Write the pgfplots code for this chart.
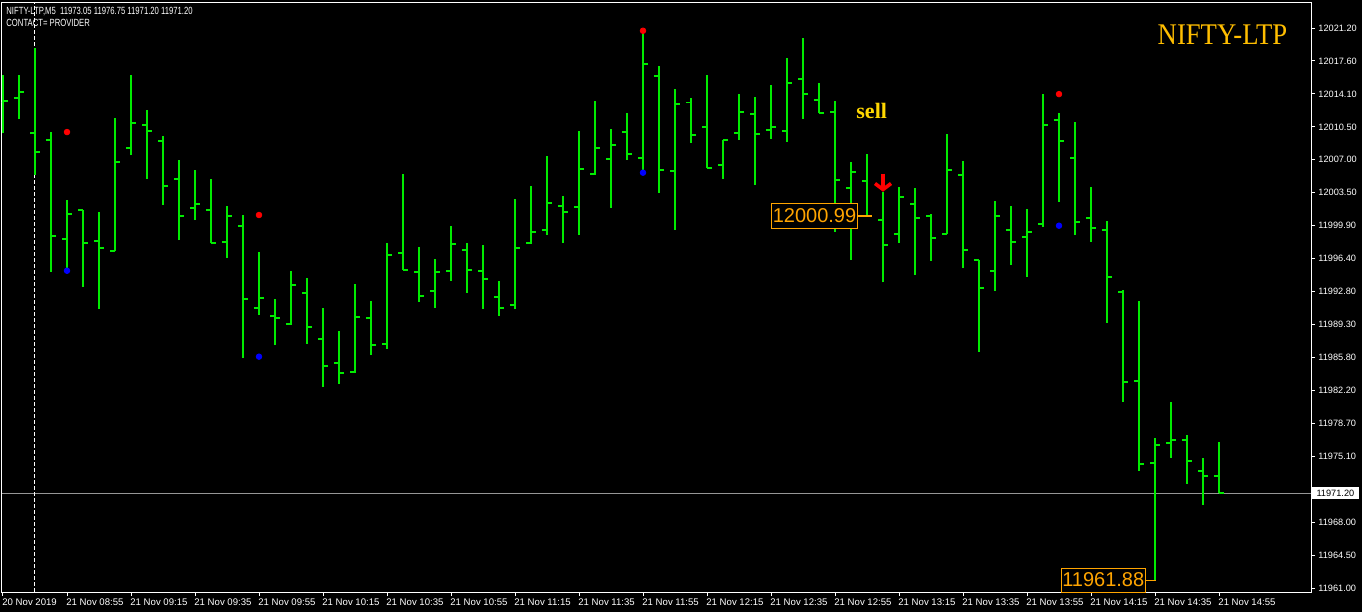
\documentclass[border=0pt]{standalone}
\usepackage{fontspec}
\setmainfont{Liberation Sans}
\newfontfamily\serifnf{Liberation Serif}
\usepackage{pgfplots}
\pgfplotsset{compat=1.18}
\usepackage{pgfplotstable}
\usetikzlibrary{arrows.meta}
\definecolor{barg}{RGB}{0,235,0}
\definecolor{lbl}{RGB}{255,165,0}
\definecolor{nifty}{RGB}{255,190,0}
\definecolor{sellc}{RGB}{255,215,0}
\definecolor{pline}{RGB}{150,150,150}

\pgfplotstableread{
x o h l c
0 12013.20 12016.15 12009.88 12013.35
1 12013.71 12016.15 12011.42 12014.32
2 12009.91 12019.05 12005.40 12007.87
3 12009.19 12010.02 11995.00 11998.84
4 11998.52 12002.71 11995.40 12001.24
5 12001.67 12001.67 11993.39 11998.12
6 11998.33 12001.42 11991.02 11997.58
7 11997.26 12011.52 11997.20 12006.79
8 12008.33 12016.15 12007.55 12011.02
9 12010.80 12012.38 12004.97 12010.16
10 12009.08 12009.59 12002.20 12004.21
11 12005.00 12007.01 11998.41 12001.02
12 12001.88 12005.93 12000.56 12002.31
13 12001.63 12004.97 11998.06 11998.12
14 11998.23 12002.06 11996.51 12000.99
15 11999.95 12001.10 11985.76 11992.10
16 11991.14 11997.12 11990.38 11992.21
17 11990.27 11992.07 11987.12 11990.06
18 11989.42 11995.08 11989.30 11993.57
19 11992.74 11994.32 11987.26 11989.09
20 11987.77 11991.10 11982.64 11984.86
21 11985.22 11988.63 11982.96 11984.14
22 11984.25 11993.68 11984.14 11990.16
23 11990.06 11991.85 11986.08 11987.15
24 11987.26 11998.09 11986.72 11996.83
25 11997.05 12005.50 11995.19 11995.22
26 11995.00 11997.66 11991.78 11992.42
27 11992.96 11996.37 11991.13 11995.00
28 11995.11 11999.91 11994.03 11998.01
29 11997.37 11998.09 11992.74 11995.22
30 11995.11 11997.87 11991.02 11994.25
31 11992.32 11994.00 11990.27 11991.13
32 11991.45 12002.82 11991.02 11997.58
33 11998.12 12004.21 11998.01 11999.30
34 11999.52 12007.44 11998.98 12002.42
35 12002.10 12003.14 11998.12 12001.45
36 12001.99 12010.13 11998.98 12006.08
37 12005.54 12013.35 12005.43 12008.33
38 12007.15 12010.34 12001.88 12008.66
39 12010.05 12012.06 12007.04 12007.69
40 12007.26 12020.88 12005.65 12017.36
41 12016.07 12017.12 12003.50 12005.97
42 12005.86 12014.64 11999.52 12013.06
43 12013.21 12013.68 12008.87 12009.73
44 12010.59 12016.15 12006.12 12006.18
45 12006.51 12009.13 12005.00 12009.13
46 12009.94 12014.10 12009.19 12012.20
47 12011.99 12013.78 12004.36 12009.84
48 12010.27 12015.07 12009.30 12010.59
49 12010.16 12017.98 12008.98 12015.32
50 12015.75 12020.13 12011.45 12014.14
51 12013.49 12015.29 12012.06 12012.09
52 12012.20 12013.35 11999.30 12004.89
53 12004.03 12006.79 11996.29 12005.75
54 12004.79 12007.66 12000.99 12000.99
55 12000.59 12003.60 11993.86 11997.90
56 11999.09 12004.11 11998.12 12003.07
57 12002.31 12004.00 11994.68 12000.81
58 12001.02 12001.20 11996.18 11998.66
59 11999.09 12009.81 11999.02 12005.97
60 12005.43 12006.90 11995.43 11997.37
61 11996.29 11996.29 11986.40 11993.28
62 11995.11 12002.60 11992.96 12001.02
63 11999.52 12002.06 11995.76 11998.23
64 11998.77 12001.74 11994.46 11999.30
65 12000.16 12014.10 11999.84 12010.80
66 12011.34 12012.06 12002.53 12009.08
67 12007.26 12011.09 11998.98 12000.38
68 12000.81 12004.11 11998.23 11999.73
69 11999.52 12000.45 11989.52 11994.46
70 11992.79 11993.04 11981.03 11983.15
71 11983.29 11991.85 11973.58 11974.36
72 11974.47 11977.12 11961.88 11976.40
73 11976.62 11980.99 11975.01 11976.94
74 11976.94 11977.45 11972.21 11974.69
75 11973.61 11974.98 11969.96 11973.07
76 11973.05 11976.75 11971.20 11971.20
}\ohlc

\begin{document}
\begin{tikzpicture}
\fill[black] (0,0) rectangle (681pt,306pt);
\useasboundingbox (0,0) rectangle (681pt,306pt);
\begin{axis}[
  at={(1pt,10pt)}, anchor=south west,
  width=654.5pt, height=295pt, scale only axis,
  xmin=-0.0625, xmax=81.75, ymin=11960.57, ymax=12024.0,
  scaled y ticks=false, scaled x ticks=false,
  axis line style={white, line width=0.5pt},
  xtick={0,4,...,76},
  xticklabels={20 Nov 2019, 21 Nov 08:55, 21 Nov 09:15, 21 Nov 09:35, 21 Nov 09:55, 21 Nov 10:15, 21 Nov 10:35, 21 Nov 10:55, 21 Nov 11:15, 21 Nov 11:35, 21 Nov 11:55, 21 Nov 12:15, 21 Nov 12:35, 21 Nov 12:55, 21 Nov 13:15, 21 Nov 13:35, 21 Nov 13:55, 21 Nov 14:15, 21 Nov 14:35, 21 Nov 14:55},
  ytick={12021.2000,12017.6588,12014.1176,12010.5765,12007.0353,12003.4941,11999.9529,11996.4118,11992.8706,11989.3294,11985.7882,11982.2471,11978.7059,11975.1647,11971.6235,11968.0824,11964.5412,11961.0000},
  yticklabels={12021.20,12017.60,12014.10,12010.50,12007.00,12003.50,11999.90,11996.40,11992.80,11989.30,11985.80,11982.20,11978.70,11975.10,{},11968.00,11964.50,11961.00},
  xtick pos=bottom, ytick pos=right,
  tick align=outside,
  major tick length=2pt,
  tick style={white, line width=0.5pt},
  x tick label style={font=\fontsize{4.8}{5}\selectfont, text=white, anchor=north west, inner sep=0pt, xshift=-0.5pt, yshift=-1pt},
  y tick label style={font=\fontsize{4.6}{5}\selectfont, text=white, anchor=west, inner sep=0pt, xshift=1.5pt},
]
\addplot[pline, line width=0.5pt, mark=none] coordinates {(-0.0625,11971.20) (81.75,11971.20)};
\addplot[white, line width=0.5pt, mark=none, dash pattern=on 2pt off 1pt] coordinates {(2,11960.57) (2,12024.0)};
\addplot[barg, line width=0.85pt, mark=none, quiver={u=0, v=\thisrow{h}-\thisrow{l}}] table[x=x, y=l] {\ohlc};
\addplot[barg, line width=0.85pt, mark=none, quiver={u=-0.33, v=0}] table[x=x, y=o] {\ohlc};
\addplot[barg, line width=0.85pt, mark=none, quiver={u=0.33, v=0}] table[x=x, y=c] {\ohlc};
\addplot[only marks, mark=*, mark size=1.4pt, red] coordinates {(4,12010.02) (16,12001.10) (40,12020.91) (66,12014.10)};
\addplot[only marks, mark=*, mark size=1.4pt, blue] coordinates {(4,11995.11) (16,11985.87) (40,12005.65) (66,11999.95)};
\addplot[red, line width=1.8pt, mark=none, quiver={u=0, v=-1.95}, -{Straight Barb[length=3pt,width=8pt]}] coordinates {(55,12005.55)};
\end{axis}
% header text
\node[anchor=base west, inner sep=0pt, text=white] at (3pt,298.6pt) {\scalebox{0.74}[1]{\fontsize{5.2}{5.5}\selectfont NIFTY-LTP,M5\ \ 11973.05 11976.75 11971.20 11971.20}};
\node[anchor=base west, inner sep=0pt, text=white] at (3pt,292.6pt) {\scalebox{0.74}[1]{\fontsize{5.2}{5.5}\selectfont CONTACT= PROVIDER}};
% title
\node[anchor=base, inner sep=0pt, text=nifty] at (611.25pt,283.5pt) {\scalebox{0.89}[1]{\serifnf\fontsize{15}{15}\selectfont NIFTY-LTP}};
\node[anchor=base, inner sep=0pt, text=sellc] at (435.85pt,247pt) {\serifnf\bfseries\fontsize{11}{11}\selectfont sell};
% price labels
\node[draw=lbl, fill=black, text=lbl, line width=0.5pt, inner sep=0.5pt, minimum height=12pt, anchor=east] at (428.85pt,198pt) {\fontsize{10}{10}\selectfont 12000.99};
\draw[lbl, line width=0.5pt] (428.85pt,198pt) -- (435.85pt,198pt);
\node[draw=lbl, fill=black, text=lbl, line width=0.5pt, inner sep=0.5pt, minimum height=12pt, anchor=east] at (572.85pt,16pt) {\fontsize{10}{10}\selectfont 11961.88};
\draw[lbl, line width=0.5pt] (572.85pt,15.9pt) -- (578pt,15.9pt);
% current price box
\node[fill=white, text=black, inner sep=0pt, minimum height=6pt, minimum width=23.5pt, anchor=west] at (655.75pt,59.5pt) {\fontsize{4.6}{5}\selectfont 11971.20};
\end{tikzpicture}
\end{document}
